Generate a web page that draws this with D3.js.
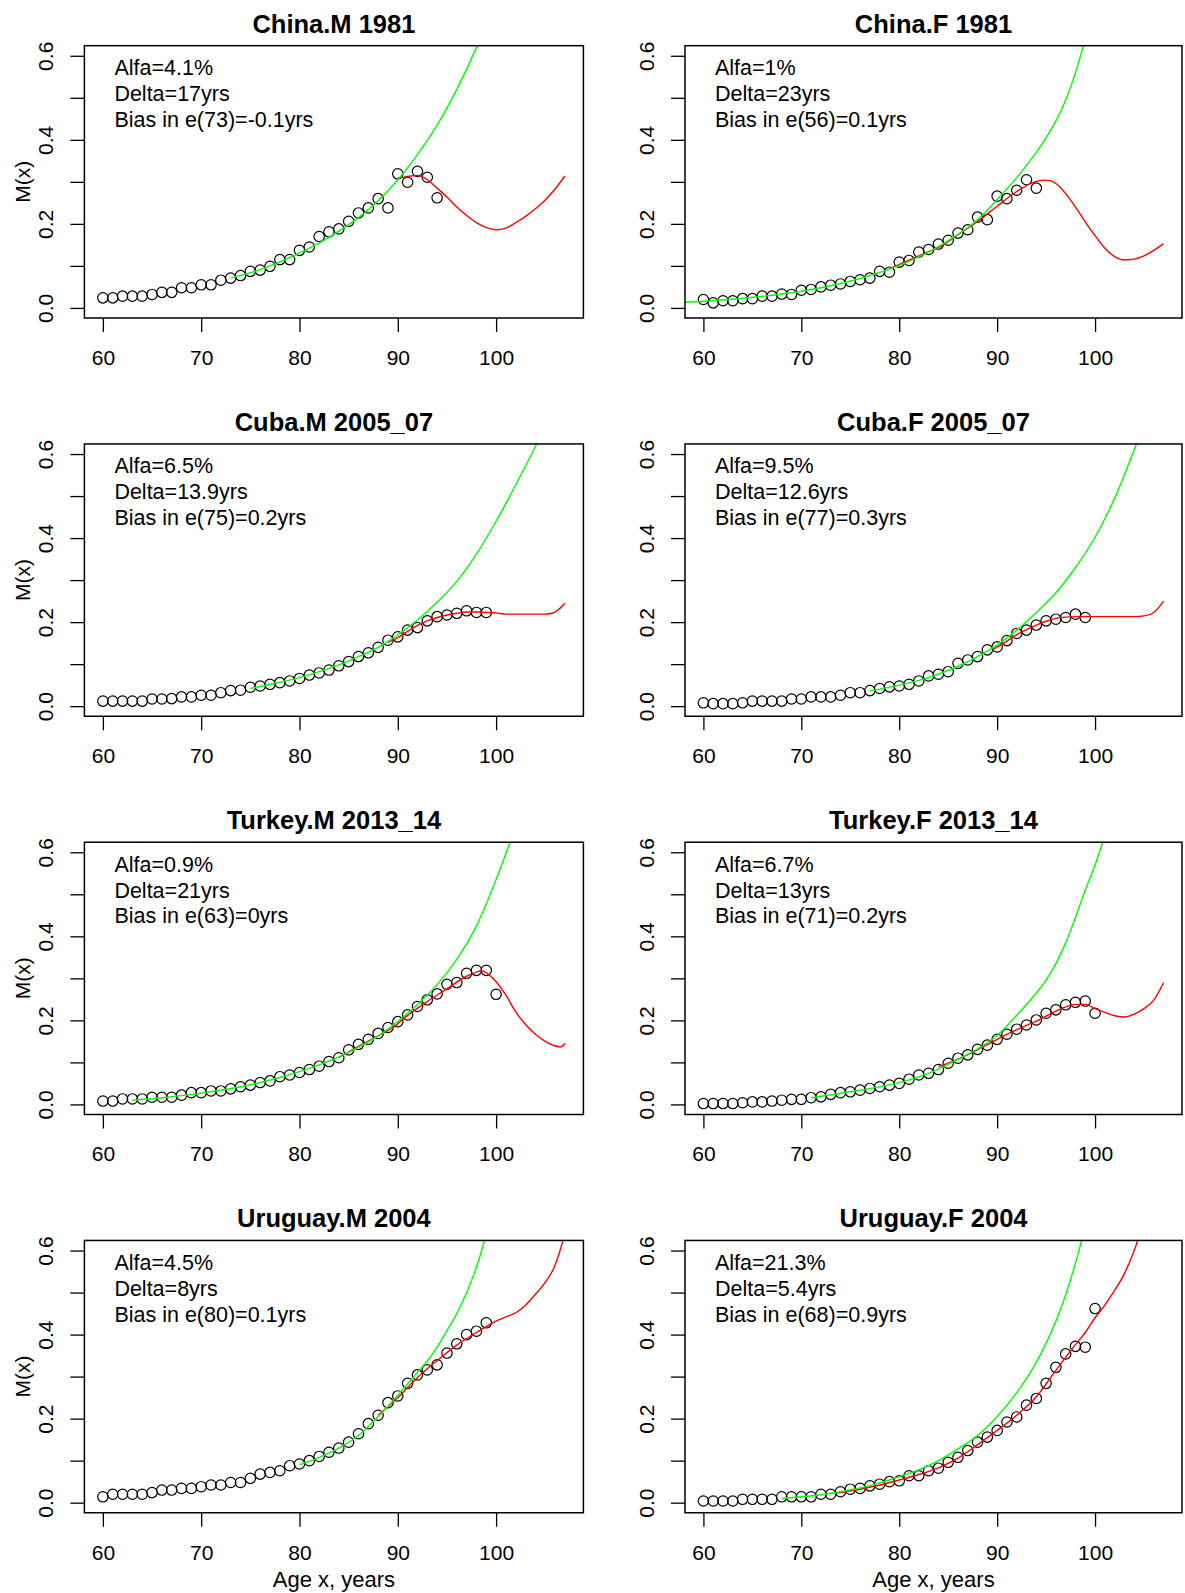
<!DOCTYPE html>
<html>
<head>
<meta charset="utf-8">
<script src="https://cdn.jsdelivr.net/npm/d3@7/dist/d3.min.js"></script>
<style>
  body { margin: 0; background: #fff; }
  text { font-family: "Liberation Sans", Arial, sans-serif; fill: #000; }
</style>
</head>
<body>
<div id="chart"></div>
<script>
// panel titles and the three text lines in each panel
var titles = ["China.M 1981", "China.F 1981", "Cuba.M 2005_07", "Cuba.F 2005_07",
              "Turkey.M 2013_14", "Turkey.F 2013_14", "Uruguay.M 2004", "Uruguay.F 2004"];
var alfaLabels = ["Alfa=4.1%", "Alfa=1%", "Alfa=6.5%", "Alfa=9.5%", "Alfa=0.9%", "Alfa=6.7%", "Alfa=4.5%", "Alfa=21.3%"];
var deltaLabels = ["Delta=17yrs", "Delta=23yrs", "Delta=13.9yrs", "Delta=12.6yrs", "Delta=21yrs", "Delta=13yrs", "Delta=8yrs", "Delta=5.4yrs"];
var biasLabels = ["Bias in e(73)=-0.1yrs", "Bias in e(56)=0.1yrs", "Bias in e(75)=0.2yrs", "Bias in e(77)=0.3yrs",
                  "Bias in e(63)=0yrs", "Bias in e(71)=0.2yrs", "Bias in e(80)=0.1yrs", "Bias in e(68)=0.9yrs"];

var xTicks = [60, 70, 80, 90, 100];
var yTicks = [0, 0.1, 0.2, 0.3, 0.4, 0.5, 0.6];
var yLabelTicks = [0, 0.2, 0.4, 0.6];

// observed M(x), one value per age starting at 60
var chinaM_obs = [0.024,0.024,0.028,0.028,0.028,0.032,0.037,0.037,0.048,0.048,0.055,0.055,0.066,0.071,0.077,0.087,0.090,0.099,0.115,0.115,
                  0.137,0.145,0.170,0.181,0.188,0.206,0.226,0.238,0.260,0.238,0.319,0.299,0.325,0.311,0.262];
var chinaF_obs = [0.020,0.012,0.017,0.017,0.022,0.022,0.028,0.028,0.033,0.032,0.042,0.044,0.050,0.054,0.057,0.063,0.067,0.071,0.087,0.085,
                  0.109,0.113,0.133,0.139,0.152,0.161,0.178,0.186,0.216,0.210,0.266,0.260,0.280,0.305,0.285];
var cubaM_obs = [0.012,0.012,0.012,0.012,0.012,0.017,0.017,0.018,0.022,0.022,0.026,0.026,0.032,0.037,0.038,0.045,0.048,0.052,0.056,0.060,
                 0.066,0.074,0.079,0.086,0.096,0.106,0.118,0.127,0.140,0.157,0.165,0.181,0.187,0.203,0.213,0.217,0.221,0.227,0.223,0.223];
var cubaF_obs = [0.008,0.006,0.006,0.006,0.008,0.012,0.012,0.012,0.012,0.017,0.017,0.022,0.022,0.022,0.026,0.032,0.032,0.037,0.042,0.046,
                 0.048,0.052,0.060,0.072,0.076,0.082,0.102,0.110,0.118,0.134,0.141,0.156,0.173,0.181,0.193,0.203,0.207,0.211,0.219,0.211];
var turkeyM_obs = [0.008,0.008,0.013,0.013,0.013,0.017,0.017,0.017,0.022,0.028,0.028,0.032,0.032,0.037,0.042,0.046,0.052,0.056,0.066,0.070,
                   0.076,0.083,0.091,0.102,0.111,0.130,0.143,0.155,0.169,0.183,0.197,0.213,0.233,0.249,0.263,0.286,0.290,0.312,0.319,0.319,0.262];
var turkeyF_obs = [0.002,0.002,0.002,0.002,0.004,0.006,0.006,0.008,0.010,0.012,0.012,0.016,0.018,0.024,0.028,0.030,0.034,0.038,0.042,0.046,
                   0.050,0.060,0.070,0.074,0.083,0.098,0.110,0.118,0.131,0.141,0.155,0.167,0.179,0.189,0.201,0.217,0.225,0.237,0.243,0.246,0.217];
var uruguayM_obs = [0.014,0.020,0.020,0.020,0.020,0.024,0.030,0.030,0.034,0.034,0.038,0.042,0.042,0.048,0.048,0.058,0.068,0.072,0.076,0.088,
                    0.092,0.100,0.110,0.120,0.130,0.144,0.164,0.188,0.208,0.238,0.254,0.284,0.304,0.316,0.328,0.356,0.378,0.400,0.408,0.428];
var uruguayF_obs = [0.004,0.004,0.004,0.004,0.008,0.008,0.008,0.008,0.014,0.014,0.014,0.014,0.020,0.020,0.026,0.032,0.034,0.040,0.044,0.050,
                    0.052,0.064,0.064,0.076,0.082,0.096,0.108,0.124,0.144,0.156,0.172,0.192,0.204,0.232,0.248,0.284,0.322,0.354,0.372,0.370,0.462];

// green curve: [age, M]
var chinaM_fit = [[73,0.071],[76,0.091],[80,0.131],[83,0.168],[86,0.215],[88,0.255],[90,0.305],[92,0.365],[94,0.435],[96,0.52],[98,0.62],[99,0.68]];
var chinaF_fit = [[56,0.011],[60,0.016],[64,0.023],[68,0.033],[72,0.048],[76,0.070],[80,0.101],[83,0.133],[86,0.175],[88,0.210],[90,0.258],
                  [92,0.31],[94,0.37],[95,0.405],[96,0.445],[97,0.495],[98,0.56],[99,0.64]];
var cubaM_fit = [[75,0.042],[78,0.057],[80,0.068],[83,0.090],[85,0.108],[88,0.140],[90,0.170],[92,0.205],[94,0.247],[96,0.297],[98,0.362],
                 [100,0.440],[102,0.527],[104,0.618],[105,0.665]];
var cubaF_fit = [[77,0.036],[80,0.050],[83,0.068],[86,0.095],[88,0.118],[90,0.146],[92,0.181],[94,0.223],[96,0.270],[98,0.330],[100,0.402],
                 [102,0.495],[104,0.610],[105,0.67]];
var turkeyM_fit = [[63,0.010],[66,0.016],[70,0.027],[74,0.042],[78,0.064],[82,0.094],[85,0.124],[88,0.163],[90,0.198],[92,0.238],[94,0.285],
                   [96,0.345],[98,0.425],[100,0.535],[101.5,0.63]];
var turkeyF_fit = [[71,0.016],[75,0.030],[80,0.052],[83,0.074],[85,0.096],[88,0.132],[90,0.164],[92,0.212],[94,0.265],[95,0.296],[96,0.335],
                   [97,0.385],[98,0.445],[99,0.51],[100,0.57],[101,0.64]];
var uruguayM_fit = [[80,0.090],[82,0.108],[84,0.130],[86,0.160],[88,0.205],[90,0.255],[91,0.283],[92,0.310],[93,0.337],[94,0.37],[95,0.41],
                    [96,0.45],[97,0.50],[98,0.56],[99,0.64]];
var uruguayF_fit = [[68,0.010],[70,0.014],[72,0.019],[74,0.026],[76,0.035],[78,0.047],[80,0.062],[82,0.078],[84,0.100],[86,0.128],[88,0.160],
                    [90,0.205],[92,0.262],[94,0.334],[96,0.432],[97,0.495],[98,0.57],[99,0.66]];

// red curve: [age, M]
var chinaM_smooth = [[90,0.309],[91,0.313],[92,0.315],[93,0.305],[94,0.285],[95,0.264],[96,0.240],[97,0.220],[98,0.203],[99,0.191],[100,0.186],
                     [101,0.190],[102,0.203],[103,0.218],[104,0.236],[105,0.257],[106,0.283],[107,0.314]];
var chinaF_smooth = [[79,0.093],[82,0.124],[84.5,0.150],[86,0.174],[88,0.206],[90,0.242],[92,0.277],[94,0.301],[95,0.304],[96,0.296],[97,0.272],
                     [98,0.240],[99,0.205],[100,0.172],[101,0.142],[102,0.122],[103,0.114],[104,0.116],[105,0.124],[106,0.137],[107,0.153]];
var cubaM_smooth = [[89,0.152],[90,0.163],[91,0.178],[92,0.192],[93,0.203],[94,0.211],[95,0.217],[96,0.221],[97,0.224],[98,0.224],[99,0.223],
                    [100,0.222],[101,0.219],[103,0.219],[105,0.219],[105.7,0.221],[106.3,0.229],[107,0.245]];
var cubaF_smooth = [[89.6,0.136],[90,0.141],[91,0.155],[92,0.170],[93,0.182],[94,0.193],[95,0.202],[96,0.209],[97,0.212],[98,0.213],[100,0.213],
                    [102,0.213],[104,0.213],[105,0.215],[106,0.223],[107,0.250]];
var turkeyM_smooth = [[84,0.112],[86,0.138],[88,0.163],[89.5,0.183],[91,0.212],[93,0.245],[95,0.275],[97,0.305],[98,0.315],[98.5,0.318],
                      [99,0.313],[100,0.292],[101,0.260],[102,0.220],[103,0.190],[104,0.167],[105,0.150],[106,0.139],[106.6,0.137],[107,0.145]];
var turkeyF_smooth = [[84,0.090],[85,0.098],[88,0.130],[90,0.155],[92,0.178],[94,0.198],[96,0.222],[97,0.232],[98,0.238],[99,0.238],[100,0.228],
                      [101,0.219],[102,0.211],[103,0.208],[104,0.215],[105,0.228],[106,0.248],[107,0.290]];
var uruguayM_smooth = [[88,0.208],[89,0.228],[90,0.250],[92,0.298],[94,0.338],[96,0.375],[98,0.405],[100,0.432],[101,0.442],[102,0.452],
                       [103,0.470],[104,0.496],[105,0.524],[106,0.565],[107,0.64]];
var uruguayF_smooth = [[73.4,0.022],[76,0.032],[78,0.042],[80,0.054],[82,0.067],[84,0.083],[86,0.106],[88,0.138],[90,0.172],[92,0.208],
                       [94,0.252],[96,0.315],[98,0.376],[99,0.405],[100,0.44],[101,0.47],[102,0.505],[103,0.545],[104,0.60],[105,0.67]];

var obsList = [chinaM_obs, chinaF_obs, cubaM_obs, cubaF_obs, turkeyM_obs, turkeyF_obs, uruguayM_obs, uruguayF_obs];
var fitList = [chinaM_fit, chinaF_fit, cubaM_fit, cubaF_fit, turkeyM_fit, turkeyF_fit, uruguayM_fit, uruguayF_fit];
var smoothList = [chinaM_smooth, chinaF_smooth, cubaM_smooth, cubaF_smooth, turkeyM_smooth, turkeyF_smooth, uruguayM_smooth, uruguayF_smooth];

var W = 1185, H = 1593;
var boxLeft = [84.4, 685], boxRight = [583.4, 1182];
var rowStep = 398.25, boxTop0 = 45.7, boxBottom0 = 318;

var svg = d3.select("#chart").append("svg")
  .attr("width", W).attr("height", H)
  .style("background", "#fff");

var x, y;
var redLine = d3.line()
  .x(function(d) { return x(d[0]); })
  .y(function(d) { return y(d[1]); })
  .curve(d3.curveMonotoneX);
var greenLine = d3.line()
  .x(function(d) { return x(d[0]); })
  .y(function(d) { return y(d[1]); })
  .curve(d3.curveCatmullRom.alpha(0.5));

for (var i = 0; i < 8; i++) {
  var col = i % 2, row = Math.floor(i / 2);
  var L = boxLeft[col], R = boxRight[col];
  var T = boxTop0 + row * rowStep, B = boxBottom0 + row * rowStep;

  x = d3.scaleLinear().domain([58.12, 108.88]).range([L, R]);
  y = d3.scaleLinear().domain([-0.024, 0.624]).range([B, T]);

  var g = svg.append("g");

  g.append("clipPath").attr("id", "clip" + i)
    .append("rect").attr("x", L).attr("y", T).attr("width", R - L).attr("height", B - T);

  // observed points
  var pts = obsList[i].map(function(v, j) { return [60 + j, v]; });
  g.selectAll(".pt").data(pts).enter().append("circle")
    .attr("cx", function(d) { return x(d[0]); })
    .attr("cy", function(d) { return y(d[1]); })
    .attr("r", 5.2)
    .attr("fill", "none")
    .attr("stroke", "#000")
    .attr("stroke-width", 1.2);

  var lines = g.append("g").attr("clip-path", "url(#clip" + i + ")");
  lines.append("path").datum(smoothList[i])
    .attr("d", redLine).attr("fill", "none").attr("stroke", "#ff0000").attr("stroke-width", 1.4);
  lines.append("path").datum(fitList[i])
    .attr("d", greenLine).attr("fill", "none").attr("stroke", "#00ff00").attr("stroke-width", 1.4);

  // box
  g.append("rect").attr("x", L).attr("y", T).attr("width", R - L).attr("height", B - T)
    .attr("fill", "none").attr("stroke", "#000").attr("stroke-width", 1.5);

  // x axis
  var xa = g.append("g").attr("transform", "translate(0," + B + ")")
    .call(d3.axisBottom(x).tickValues(xTicks).tickSize(14).tickSizeOuter(0).tickPadding(18));
  xa.select(".domain").remove();
  xa.selectAll("line").attr("stroke", "#000").attr("stroke-width", 1.3);
  xa.selectAll("text").style("font-size", "21px").style("font-family", '"Liberation Sans", Arial, sans-serif').attr("fill", "#000");

  // y axis
  var ya = g.append("g").attr("transform", "translate(" + L + ",0)")
    .call(d3.axisLeft(y).tickValues(yTicks).tickSize(14).tickSizeOuter(0)
      .tickFormat(function(d) { return yLabelTicks.indexOf(d) >= 0 ? d3.format(".1f")(d) : ""; }));
  ya.select(".domain").remove();
  ya.selectAll("line").attr("stroke", "#000").attr("stroke-width", 1.3);
  ya.selectAll("text")
    .attr("x", null).attr("dy", null)
    .attr("text-anchor", "middle")
    .attr("transform", "translate(-31.5,0) rotate(-90)")
    .style("font-size", "21px").style("font-family", '"Liberation Sans", Arial, sans-serif').attr("fill", "#000");

  // title
  g.append("text").attr("x", (L + R) / 2).attr("y", T - 13)
    .attr("text-anchor", "middle").style("font-size", "25.5px").style("font-weight", "bold")
    .text(titles[i]);

  // annotations
  [alfaLabels[i], deltaLabels[i], biasLabels[i]].forEach(function(s, k) {
    g.append("text").attr("x", L + 30).attr("y", T + 29.5 + k * 25.8)
      .style("font-size", "21.5px").text(s);
  });

  if (col === 0) {
    g.append("text").attr("transform", "translate(30," + ((T + B) / 2) + ") rotate(-90)")
      .attr("text-anchor", "middle").style("font-size", "21px").text("M(x)");
  }
  if (row === 3) {
    g.append("text").attr("x", (L + R) / 2).attr("y", B + 74)
      .attr("text-anchor", "middle").style("font-size", "22px").text("Age x, years");
  }
}
</script>
</body>
</html>
